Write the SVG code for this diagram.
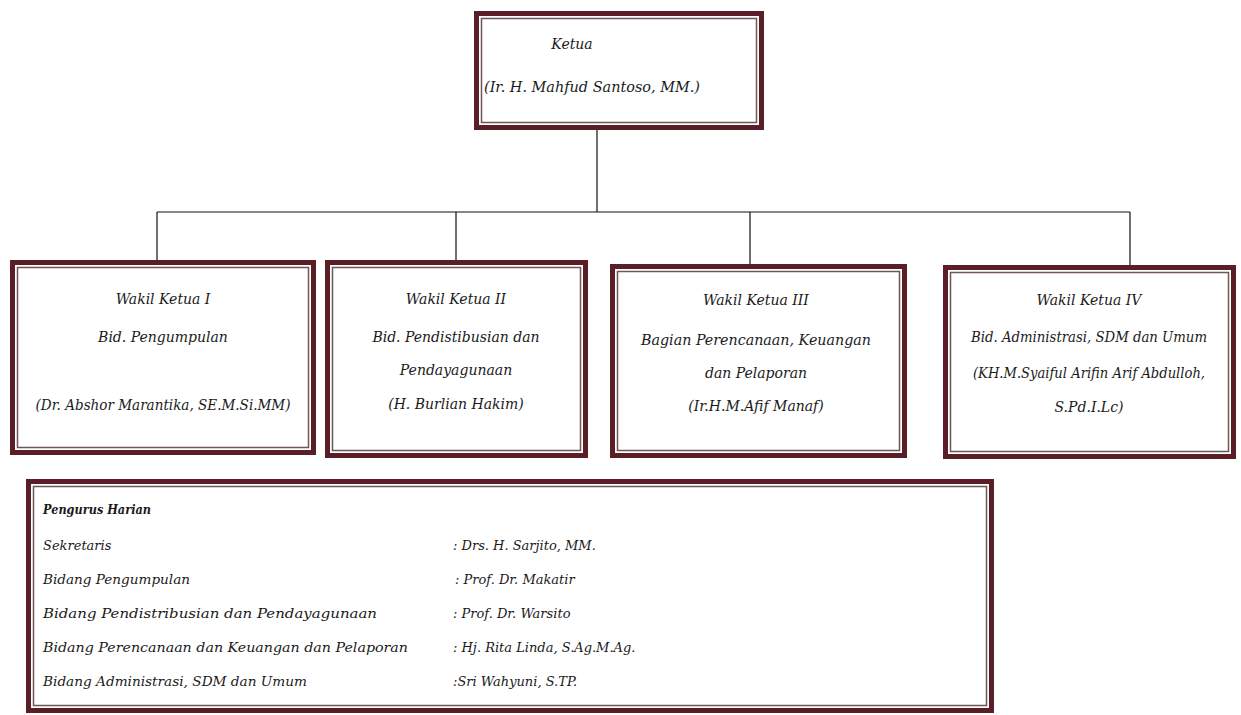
<svg xmlns="http://www.w3.org/2000/svg" width="1241" height="715" viewBox="0 0 1241 715">
<style>
.outer{fill:#ffffff;stroke:#5a1f26;stroke-width:5}
.inner{fill:none;stroke:#6e5656;stroke-width:1.5}
.t{font-family:"DejaVu Serif","Liberation Serif",serif;font-style:italic;font-size:14px;fill:#1a1a1a}
.s{font-size:13px}
.c{text-anchor:middle}
.b{font-weight:bold}
.conn{stroke:#111;stroke-width:1.2;fill:none}
</style>
<rect width="1241" height="715" fill="#ffffff"/>
<g id="connectors">
<path class="conn" d="M597 130 V212 M157 212 H1130 M157 212 V260 M456 212 V260 M750 212 V264 M1130 212 V265"/>
</g>
<g id="ketua">
<rect class="outer" x="476.5" y="13.5" width="285" height="114"/>
<rect class="inner" x="481.5" y="18.5" width="275" height="104"/>
<text class="t c" x="572" y="49">Ketua</text>
<text class="t c" x="592" y="92" textLength="216" lengthAdjust="spacingAndGlyphs">(Ir. H. Mahfud Santoso, MM.)</text>
</g>
<g id="wakil1">
<rect class="outer" x="12.5" y="262.5" width="301" height="190"/>
<rect class="inner" x="17.5" y="267.5" width="291" height="180"/>
<text class="t c" x="163" y="304">Wakil Ketua I</text>
<text class="t c" x="163" y="342">Bid. Pengumpulan</text>
<text class="t c" x="163" y="410" textLength="255" lengthAdjust="spacingAndGlyphs">(Dr. Abshor Marantika, SE.M.Si.MM)</text>
</g>
<g id="wakil2">
<rect class="outer" x="327.5" y="262.5" width="258" height="193"/>
<rect class="inner" x="332.5" y="267.5" width="248" height="183"/>
<text class="t c" x="456" y="304">Wakil Ketua II</text>
<text class="t c" x="456" y="342">Bid. Pendistibusian dan</text>
<text class="t c" x="456" y="375">Pendayagunaan</text>
<text class="t c" x="456" y="409">(H. Burlian Hakim)</text>
</g>
<g id="wakil3">
<rect class="outer" x="612.5" y="266.5" width="292" height="189"/>
<rect class="inner" x="617.5" y="271.5" width="282" height="179"/>
<text class="t c" x="756" y="305">Wakil Ketua III</text>
<text class="t c" x="756" y="345" textLength="230" lengthAdjust="spacingAndGlyphs">Bagian Perencanaan, Keuangan</text>
<text class="t c" x="756" y="378">dan Pelaporan</text>
<text class="t c" x="756" y="411">(Ir.H.M.Afif Manaf)</text>
</g>
<g id="wakil4">
<rect class="outer" x="945.5" y="267.5" width="288" height="189"/>
<rect class="inner" x="950.5" y="272.5" width="278" height="179"/>
<text class="t c" x="1089" y="305">Wakil Ketua IV</text>
<text class="t c" x="1089" y="342" textLength="236" lengthAdjust="spacingAndGlyphs">Bid. Administrasi, SDM dan Umum</text>
<text class="t c" x="1089" y="378" textLength="232" lengthAdjust="spacingAndGlyphs">(KH.M.Syaiful  Arifin Arif Abdulloh,</text>
<text class="t c" x="1089" y="412">S.Pd.I.Lc)</text>
</g>
<g id="pengurus-harian">
<rect class="outer" x="28.5" y="481.5" width="963" height="229"/>
<rect class="inner" x="33.5" y="486.5" width="953" height="219"/>
<text class="t s b" x="43" y="514" textLength="108" lengthAdjust="spacingAndGlyphs">Pengurus Harian</text>
<text class="t s" x="43" y="550">Sekretaris</text>
<text class="t s" x="43" y="584" textLength="147" lengthAdjust="spacingAndGlyphs">Bidang Pengumpulan</text>
<text class="t s" x="43" y="618" textLength="334" lengthAdjust="spacingAndGlyphs">Bidang Pendistribusian dan Pendayagunaan</text>
<text class="t s" x="43" y="652" textLength="365" lengthAdjust="spacingAndGlyphs">Bidang Perencanaan dan Keuangan dan Pelaporan</text>
<text class="t s" x="43" y="686" textLength="264" lengthAdjust="spacingAndGlyphs">Bidang Administrasi, SDM dan Umum</text>
<text class="t s" x="453" y="550">: Drs. H. Sarjito, MM.</text>
<text class="t s" x="455" y="584"> : Prof. Dr. Makatir</text>
<text class="t s" x="453" y="618">: Prof. Dr. Warsito</text>
<text class="t s" x="453" y="652">: Hj. Rita Linda, S.Ag.M.Ag.</text>
<text class="t s" x="453" y="686">:Sri Wahyuni, S.TP.</text>
</g>
</svg>
